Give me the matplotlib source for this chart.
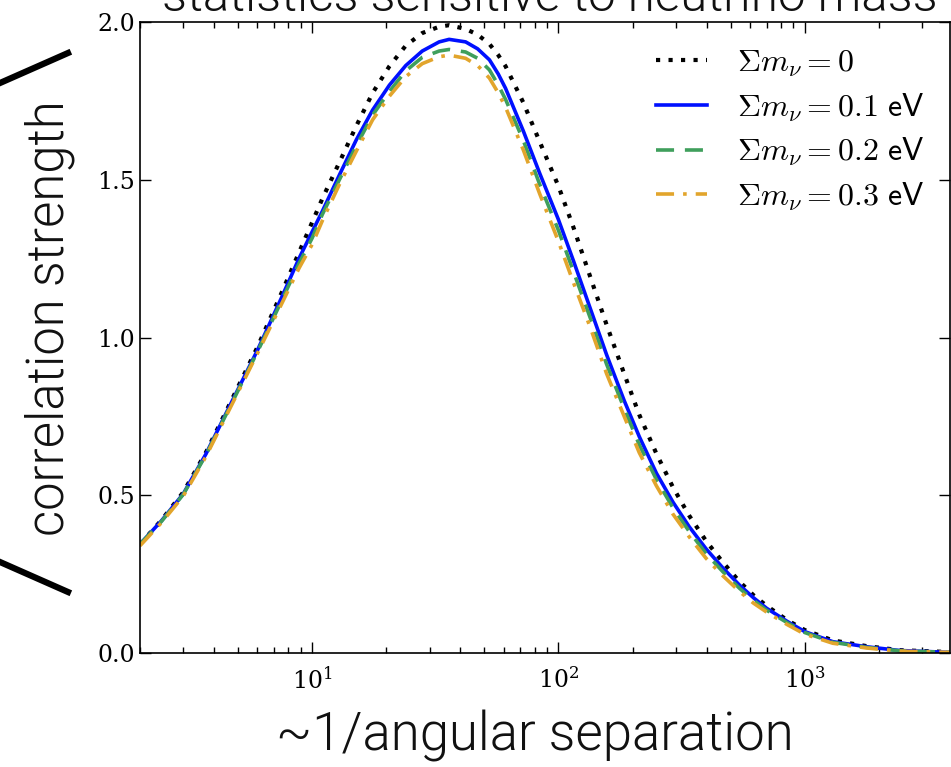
import matplotlib
matplotlib.use("Agg")
import matplotlib.pyplot as plt
from matplotlib.lines import Line2D

# ~1/angular separation (log axis)
x_vals = [2, 2.45, 3, 3.7, 4.5, 6, 7.5, 8.85, 10, 11, 12.9, 15.1, 17.6, 20.6, 24,
          28, 32.8, 36, 42, 47, 52.5, 57, 61, 72, 84, 100, 115, 135, 157, 185,
          213, 250, 292, 340, 398, 465, 544, 620, 700, 850, 1000, 1300, 1780,
          2430, 3900]

# correlation strength for each neutrino mass
y_m0 = [0.345, 0.422, 0.51, 0.635, 0.77, 0.97, 1.14, 1.27, 1.365, 1.44, 1.555,
        1.67, 1.775, 1.86, 1.925, 1.965, 1.985, 1.99, 1.978, 1.96, 1.93, 1.895,
        1.86, 1.745, 1.62, 1.48, 1.35, 1.19, 1.04, 0.885, 0.755, 0.632, 0.525,
        0.435, 0.355, 0.288, 0.226, 0.183, 0.15, 0.104, 0.073, 0.04, 0.022,
        0.009, 0.003]
y_m01 = [0.345, 0.42, 0.505, 0.63, 0.764, 0.96, 1.125, 1.251, 1.335, 1.40, 1.515,
         1.626, 1.721, 1.80, 1.862, 1.908, 1.937, 1.945, 1.937, 1.915, 1.88,
         1.835, 1.79, 1.655, 1.52, 1.374, 1.244, 1.09, 0.945, 0.80, 0.686, 0.57,
         0.478, 0.40, 0.33, 0.27, 0.215, 0.175, 0.142, 0.10, 0.068, 0.036, 0.02,
         0.008, 0.002]
y_m02 = [0.345, 0.418, 0.503, 0.627, 0.76, 0.955, 1.115, 1.235, 1.315, 1.39, 1.50,
         1.607, 1.705, 1.78, 1.845, 1.888, 1.908, 1.913, 1.905, 1.885, 1.848,
         1.80, 1.755, 1.625, 1.485, 1.34, 1.21, 1.06, 0.915, 0.775, 0.66, 0.55,
         0.46, 0.385, 0.315, 0.258, 0.205, 0.167, 0.136, 0.096, 0.065, 0.034,
         0.018, 0.007, 0.002]
y_m03 = [0.34, 0.414, 0.498, 0.622, 0.755, 0.95, 1.105, 1.22, 1.295, 1.37, 1.485,
         1.59, 1.69, 1.765, 1.827, 1.868, 1.89, 1.895, 1.885, 1.862, 1.822,
         1.775, 1.73, 1.595, 1.455, 1.305, 1.175, 1.03, 0.885, 0.75, 0.635, 0.53,
         0.44, 0.368, 0.30, 0.245, 0.195, 0.158, 0.13, 0.09, 0.06, 0.031, 0.016,
         0.006, 0.002]

labels = [r"$\Sigma m_\nu = \mathsf{0}$", r"$\Sigma m_\nu = \mathsf{0.1\ eV}$",
          r"$\Sigma m_\nu = \mathsf{0.2\ eV}$", r"$\Sigma m_\nu = \mathsf{0.3\ eV}$"]

plt.rcParams["mathtext.fontset"] = "cm"
plt.rcParams["font.family"] = "DejaVu Serif"

fig = plt.figure(figsize=(9.51, 7.67), dpi=100)
ax = fig.add_axes([0.1472, 0.1486, 0.852, 0.8227])

# the four curves
ax.plot(x_vals, y_m0, color="black", linestyle=(0, (1, 2)), lw=3, label=labels[0])
ax.plot(x_vals, y_m01, color="#0010ff", linestyle="-", lw=2.6, label=labels[1])
ax.plot(x_vals, y_m02, color="#3f9f5c", linestyle=(0, (5, 3)), lw=2.6, label=labels[2])
ax.plot(x_vals, y_m03, color="#e2a52c", linestyle=(0, (5, 2.5, 1, 2.5)), lw=2.6, label=labels[3])

ax.set_xscale("log")
ax.set_xlim(2, 3900)
ax.set_ylim(0, 2.0)
ax.set_yticks([0.0, 0.5, 1.0, 1.5, 2.0])
ax.set_yticklabels(["0.0", "0.5", "1.0", "1.5", "2.0"])

# old style inward ticks on all sides
ax.tick_params(which="both", direction="in", top=True, right=True, labelsize=17)
ax.tick_params(which="major", length=8, width=1)
ax.tick_params(which="minor", length=4, width=1)
ax.tick_params(axis="x", pad=10)
for sp in ax.spines.values():
    sp.set_linewidth(1.2)

leg = ax.legend(loc="upper right", frameon=False, fontsize=23, handlelength=1.6,
                handletextpad=0.95, labelspacing=0.38, borderaxespad=0.4)

# slide annotations around the axes
txt_font = dict(family="Roboto", weight=300, color="#111111")
fig.text(0.052, 0.585, "correlation strength", rotation=90, ha="center", va="center",
         fontsize=36.5, **txt_font)
fig.text(0.562, 0.04, "~1/angular separation", ha="center", va="center",
         fontsize=38, **txt_font)
fig.text(0.578, 1 - 11 / 767, "statistics sensitive to neutrino mass", ha="center",
         va="baseline", fontsize=35.5, **txt_font)

# bracket-like strokes next to the y label
fig.add_artist(Line2D([0, 68 / 951], [1 - 83 / 767, 1 - 53 / 767], color="black",
                      lw=4.5, transform=fig.transFigure))
fig.add_artist(Line2D([0, 68 / 951], [1 - 562 / 767, 1 - 592 / 767], color="black",
                      lw=4.5, transform=fig.transFigure))

fig.savefig("out.png", dpi=100)
